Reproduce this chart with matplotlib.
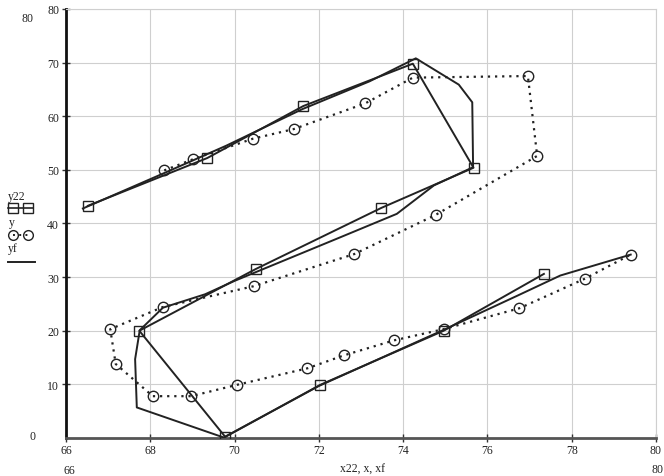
import matplotlib
matplotlib.use('Agg')
import matplotlib.pyplot as plt
from matplotlib.lines import Line2D

# square series (y22 vs x22)
x22 = [66.52, 69.35, 71.63, 74.23, 75.67, 73.48, 70.50, 67.74, 69.78, 72.03, 74.96, 77.34]
y22 = [43.3, 52.2, 61.9, 69.8, 50.4, 42.9, 31.5, 20.0, 0.2, 9.9, 20.0, 30.6]

# circle series (y vs x)
x = [68.33, 69.02, 70.43, 71.40, 73.10, 74.23, 76.96, 77.18, 74.77, 72.84, 70.45, 68.29,
     67.05, 67.18, 68.06, 68.97, 70.05, 71.73, 72.59, 73.78, 74.96, 76.76, 78.31, 79.40]
y = [49.9, 52.0, 55.8, 57.6, 62.4, 67.2, 67.5, 52.6, 41.6, 34.3, 28.3, 24.4,
     20.3, 13.8, 7.8, 7.8, 9.9, 13.0, 15.4, 18.2, 20.3, 24.2, 29.7, 34.2]

# plain line (yf vs xf)
xf = [66.40, 68.30, 69.80, 71.60, 73.20, 74.30, 75.32, 75.64, 75.66, 74.73, 73.85, 72.50,
      70.00, 69.30, 68.30, 67.75, 67.64, 67.68, 69.74, 72.00, 75.00, 76.70, 77.73, 79.40]
yf = [42.8, 49.3, 54.5, 61.3, 66.5, 70.8, 65.9, 62.6, 50.5, 47.1, 41.8, 37.4,
      29.3, 26.8, 24.3, 20.1, 14.7, 5.7, 0.1, 9.7, 20.3, 26.5, 30.3, 34.2]

x_ticks = [66, 68, 70, 72, 74, 76, 78, 80]
y_ticks = [10, 20, 30, 40, 50, 60, 70, 80]

ink = '#222222'
plt.rcParams['font.family'] = ['Liberation Serif', 'DejaVu Serif']
font_size = 8.5

fig = plt.figure(figsize=(6.64, 4.77), dpi=100, facecolor='white')
ax = fig.add_axes([66 / 664, 38 / 477, 590 / 664, 429 / 477])

ax.plot(xf, yf, color=ink, lw=1.4, zorder=3)
ax.plot(x22, y22, color=ink, lw=1.4, marker='s', ms=7, mfc='none', mec=ink, mew=1.0, zorder=4)
ax.plot(x, y, color=ink, lw=1.6, ls=(0, (1, 2.2)), marker='o', ms=7.5, mfc='none', mec=ink,
        mew=1.0, zorder=4)

ax.set_xlim(66, 80)
ax.set_ylim(0, 80)
ax.set_xticks(x_ticks)
ax.set_yticks(y_ticks)
ax.grid(color='#cfcfcf', lw=0.8, zorder=0)
ax.set_axisbelow(True)

for spine in ['top', 'right']:
    ax.spines[spine].set_color('#cfcfcf')
    ax.spines[spine].set_linewidth(0.8)
ax.spines['left'].set_color('#111111')
ax.spines['left'].set_linewidth(2.0)
ax.spines['bottom'].set_color('#555555')
ax.spines['bottom'].set_linewidth(2.0)

ax.tick_params(axis='both', direction='inout', length=6, width=1.0, color='#333333',
               labelsize=font_size, labelcolor=ink)
ax.tick_params(axis='y', pad=2)
ax.tick_params(axis='x', pad=1)


def fig_xy(px, py):
    return px / 664, 1 - py / 477


# axis limit labels in the style of the original
fig.text(*fig_xy(28, 19), '80', fontsize=font_size, ha='center', va='center', color=ink)
fig.text(*fig_xy(33, 437), '0', fontsize=font_size, ha='center', va='center', color=ink)
fig.text(*fig_xy(69, 471), '66', fontsize=font_size, ha='center', va='center', color=ink)
fig.text(*fig_xy(657, 470), '80', fontsize=font_size, ha='center', va='center', color=ink)
fig.text(*fig_xy(362, 470), 'x22, x, xf', fontsize=font_size, ha='center', va='center', color=ink)

# legend stacked at the left
fig.text(*fig_xy(8, 197), 'y22', fontsize=font_size, ha='left', va='center', color=ink)
fig.add_artist(Line2D([8 / 664, 33 / 664], [1 - 209 / 477] * 2, transform=fig.transFigure,
                      color=ink, lw=1.2))
fig.add_artist(Line2D([13 / 664, 28 / 664], [1 - 209 / 477] * 2, transform=fig.transFigure,
                      ls='none', marker='s', ms=6.5, mfc='none', mec=ink, mew=1.0))
fig.text(*fig_xy(9, 223), 'y', fontsize=font_size, ha='left', va='center', color=ink)
fig.add_artist(Line2D([13 / 664, 28 / 664], [1 - 236 / 477] * 2, transform=fig.transFigure,
                      color=ink, lw=1.4, ls=(0, (1, 2.2)), marker='o', ms=7, mfc='none',
                      mec=ink, mew=1.0))
fig.text(*fig_xy(8, 249), 'yf', fontsize=font_size, ha='left', va='center', color=ink)
fig.add_artist(Line2D([8 / 664, 35 / 664], [1 - 263 / 477] * 2, transform=fig.transFigure,
                      color=ink, lw=1.4))

plt.savefig('out.png', dpi=100, facecolor='white')
plt.close()
